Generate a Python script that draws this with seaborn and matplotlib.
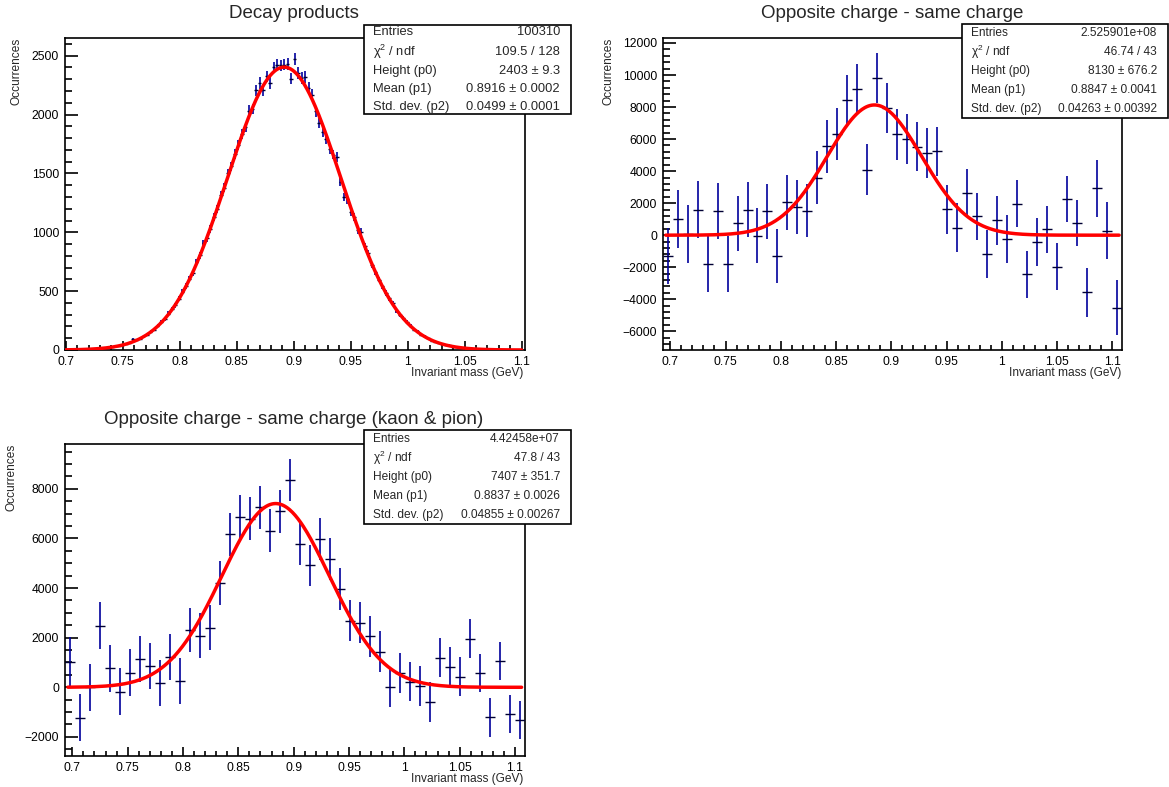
import numpy as np
import pandas as pd
import matplotlib
matplotlib.use("Agg")
import matplotlib.pyplot as plt
from matplotlib.ticker import MultipleLocator, FuncFormatter
from matplotlib.patches import Rectangle
import seaborn as sns

sns.set_theme(style="white")
plt.rcParams["font.family"] = ["Liberation Sans", "DejaVu Sans"]
plt.rcParams["mathtext.fontset"] = "custom"
plt.rcParams["mathtext.rm"] = "Liberation Sans"
plt.rcParams["mathtext.it"] = "Liberation Sans:italic"

W, H = 1169, 787

# --- Decay products (top left) ---
decay_range = (0.699, 1.1026)
decay_counts = [
    2, 1, 3, 4, 3, 6, 5, 9, 8, 12,
    15, 16, 22, 23, 31, 34, 45, 49, 62, 90,
    84, 96, 117, 128, 155, 174, 206, 236, 262, 310,
    346, 380, 436, 496, 545, 600, 650, 748, 805, 905,
    950, 1030, 1128, 1200, 1316, 1380, 1500, 1560, 1664, 1745,
    1835, 1892, 2033, 2047, 2206, 2268, 2206, 2325, 2268, 2401,
    2424, 2418, 2424, 2430, 2305, 2475, 2353, 2311, 2319, 2226,
    2169, 2028, 1928, 1852, 1790, 1705, 1660, 1640, 1430, 1300,
    1280, 1175, 1132, 1019, 1005, 880, 821, 722, 660, 598,
    540, 485, 438, 397, 335, 296, 269, 236, 205, 172,
    160, 128, 118, 98, 80, 71, 58, 52, 40, 42,
    28, 25, 19, 17, 12, 10, 10, 6, 7, 4,
    5, 2, 3, 2, 1, 2, 1, 1, 1, 1, 1,
]
decay_fit = (2403, 0.8916, 0.0499)
decay_stats = [
    ("Entries", "100310"),
    ("χ$^2$ / ndf", "109.5 / 128"),
    ("Height (p0)", "2403 ± 9.3"),
    ("Mean (p1)", "0.8916 ± 0.0002"),
    ("Std. dev. (p2)", "0.0499 ± 0.0001"),
]

# --- Opposite charge - same charge (top right) ---
diff_range = (0.6931, 1.1087)
diff_counts = [
    -1290, 1020, 60, 1580, -1790, 1520, -1790, 750, 1580, -40,
    1500, -1310, 2040, 1750, 1540, 3600, 5540, 6310, 8420, 9125,
    4100, 9810, 7960, 6290, 6000, 5520, 5150, 5250, 1625, 460,
    2625, 1170, -1170, 920, -210, 1960, -2440, -420, 375, -1960,
    2250, 750, -3560, 2920, 290, -4540,
]
diff_errors = [
    1740, 1800, 1800, 1780, 1780, 1750, 1760, 1720, 1720, 1720,
    1710, 1690, 1700, 1670, 1670, 1660, 1650, 1610, 1580, 1550,
    1590, 1580, 1570, 1580, 1550, 1540, 1550, 1530, 1530, 1530,
    1520, 1480, 1510, 1510, 1500, 1480, 1470, 1480, 1470, 1460,
    1440, 1430, 1530, 1800, 1750, 1710,
]
diff_fit = (8130, 0.8847, 0.04263)
diff_stats = [
    ("Entries", "2.525901e+08"),
    ("χ$^2$ / ndf", "46.74 / 43"),
    ("Height (p0)", "8130 ± 676.2"),
    ("Mean (p1)", "0.8847 ± 0.0041"),
    ("Std. dev. (p2)", "0.04263 ± 0.00392"),
]

# --- Opposite charge - same charge (kaon & pion) (bottom left) ---
kp_range = (0.6931, 1.1087)
kp_counts = [
    1035, -1225, 0, 2490, 765, -175, 590, 1130, 860, 175,
    1225, 255, 2310, 2085, 2405, 4210, 6160, 6880, 6790, 7250,
    6320, 7100, 8360, 5795, 4910, 5970, 5175, 3965, 2690, 2610,
    2055, 1440, 0, 590, 230, 65, -590, 1195, 835, 430,
    1965, 580, -1210, 1050, -1060, -1320,
]
kp_errors = [
    975, 960, 955, 950, 935, 940, 935, 935, 930, 915,
    915, 915, 895, 890, 895, 890, 880, 890, 865, 865,
    865, 860, 855, 855, 845, 840, 840, 840, 835, 825,
    820, 815, 805, 805, 800, 800, 805, 800, 795, 780,
    775, 775, 775, 760, 765, 765,
]
kp_fit = (7407, 0.8837, 0.04855)
kp_stats = [
    ("Entries", "4.42458e+07"),
    ("χ$^2$ / ndf", "47.8 / 43"),
    ("Height (p0)", "7407 ± 351.7"),
    ("Mean (p1)", "0.8837 ± 0.0026"),
    ("Std. dev. (p2)", "0.04855 ± 0.00267"),
]

BLUE = "#00009c"
DARK = "#000033"


def px(x, y):
    return x / W, 1 - y / H


def draw_panel(fig, frame, xr, counts, errors, fit, fit_range, ylim, ystep):
    l, t, r, b = frame
    ax = fig.add_axes([l / W, 1 - b / H, (r - l) / W, (b - t) / H])
    n = len(counts)
    edges = np.linspace(xr[0], xr[1], n + 1)
    df = pd.DataFrame({"lo": edges[:-1], "hi": edges[1:], "y": counts, "err": errors})
    df["x"] = 0.5 * (df.lo + df.hi)
    ax.vlines(df.x, df.y - df.err, df.y + df.err, color=BLUE, lw=1.2, zorder=3)
    ax.hlines(df.y, df.lo, df.hi, color=DARK, lw=1.0, zorder=3)

    h, m, s = fit
    xf = np.linspace(fit_range[0], fit_range[1], 500)
    curve = pd.DataFrame({"x": xf, "y": h * np.exp(-0.5 * ((xf - m) / s) ** 2)})
    sns.lineplot(data=curve, x="x", y="y", ax=ax, color="red", lw=2.5,
                 estimator=None, sort=False, zorder=4)

    ax.set_xlim(*xr)
    ax.set_ylim(*ylim)
    ax.set_xlabel("")
    ax.set_ylabel("")
    ax.xaxis.set_major_locator(MultipleLocator(0.05))
    ax.xaxis.set_minor_locator(MultipleLocator(0.01))
    ax.yaxis.set_major_locator(MultipleLocator(ystep[0]))
    ax.yaxis.set_minor_locator(MultipleLocator(ystep[1]))
    ax.xaxis.set_major_formatter(FuncFormatter(lambda v, p: f"{v:g}"))
    ax.yaxis.set_major_formatter(FuncFormatter(lambda v, p: f"{v:g}".replace("-", "\u2212")))
    ax.tick_params(axis="both", which="both", direction="in", top=False, right=False,
                   left=True, bottom=True, colors="black", width=1.2, labelsize=8.7)
    ax.tick_params(axis="y", which="major", length=9.4, pad=4)
    ax.tick_params(axis="y", which="minor", length=4.7)
    ax.tick_params(axis="x", which="major", length=6.8, pad=4)
    ax.tick_params(axis="x", which="minor", length=3.4)
    for sp in ax.spines.values():
        sp.set_visible(True)
        sp.set_color("black")
        sp.set_linewidth(1.2)
    ax.set_facecolor("white")
    return ax


def stats_box(fig, box, rows, row_y, size):
    l, t, r, b = box
    x0, y0 = px(l, b)
    rect = Rectangle((x0, y0), (r - l) / W, (b - t) / H, transform=fig.transFigure,
                     facecolor="white", edgecolor="black", lw=1.2, zorder=10)
    fig.add_artist(rect)
    for (name, val), y in zip(rows, row_y):
        fig.text(*px(l + 9, y), name, ha="left", va="center", fontsize=size, zorder=11)
        fig.text(*px(r - 11, y), val, ha="right", va="center", fontsize=size, zorder=11)


fig = plt.figure(figsize=(W / 100, H / 100), dpi=100)
fig.patch.set_facecolor("white")

draw_panel(fig, (64.7, 37.7, 524.6, 350), decay_range, decay_counts,
           np.sqrt(decay_counts), decay_fit, (0.7, 1.1), (0, 2653), (500, 100))
draw_panel(fig, (662.6, 37.7, 1122.1, 350), diff_range, diff_counts,
           diff_errors, diff_fit, (0.696, 1.106), (-7170, 12330), (2000, 400))
draw_panel(fig, (64.7, 443.7, 524.6, 756), kp_range, kp_counts,
           kp_errors, kp_fit, (0.696, 1.106), (-2770, 9820), (2000, 500))

# titles
fig.text(*px(294, 14), "Decay products", ha="center", va="center", fontsize=13.5)
fig.text(*px(892, 14), "Opposite charge - same charge", ha="center", va="center", fontsize=13.5)
fig.text(*px(294, 420), "Opposite charge - same charge (kaon & pion)", ha="center",
         va="center", fontsize=13.5)

# axis titles
for (x, y) in [(523.5, 372.7), (1121, 372.7), (523.5, 779)]:
    fig.text(*px(x, y), "Invariant mass (GeV)", ha="right", va="center", fontsize=8.6)
for (x, y) in [(16.6, 38), (608, 38), (11.8, 444)]:
    fig.text(*px(x, y), "Occurrences", ha="center", va="top", rotation=90, fontsize=8.6)

# stats boxes
stats_box(fig, (364, 25, 571, 114), decay_stats, [32.3, 51.7, 70.7, 89, 107.3], 9.3)
stats_box(fig, (962, 24.3, 1168, 117.7), diff_stats, [32.7, 51.7, 71, 90, 109], 8.6)
stats_box(fig, (364.4, 430, 570.9, 524), kp_stats, [439, 457.7, 477, 496, 515], 8.6)

fig.savefig("out.png", dpi=100)
